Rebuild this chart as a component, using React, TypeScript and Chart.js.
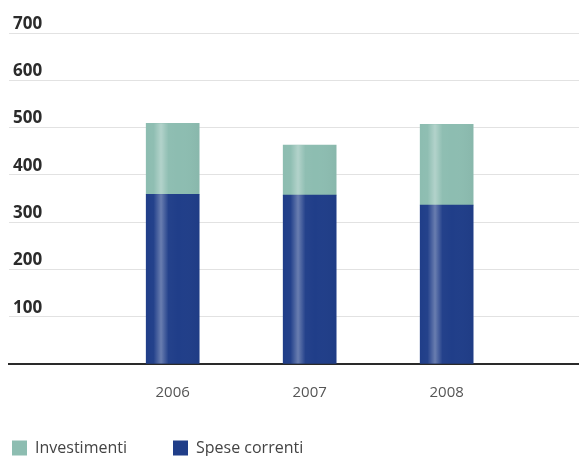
import React, { useEffect, useRef } from "react";
import { Chart, registerables } from "chart.js";

Chart.register(...registerables);

const categories = ["2006", "2007", "2008"];
const speseCorrenti = [359, 357, 336];
const investimenti = [150, 106, 171];
const yTicks = [0, 100, 200, 300, 400, 500, 600, 700];
const seriesNames = ["Spese correnti", "Investimenti"];
const seriesColors = ["#203e89", "#8dbdb1"];

const FONT = "'Open Sans', 'Liberation Sans', sans-serif";

const highlightPlugin = {
  id: "barHighlight",
  afterDatasetsDraw(chart: any) {
    const ctx = chart.ctx;
    chart.data.datasets.forEach((_: any, di: number) => {
      const meta = chart.getDatasetMeta(di);
      meta.data.forEach((el: any) => {
        const left = el.x - el.width / 2;
        const top = Math.min(el.y, el.base);
        const h = Math.abs(el.base - el.y);
        const g = ctx.createLinearGradient(left, 0, left + el.width, 0);
        g.addColorStop(0, "rgba(255,255,255,0)");
        g.addColorStop(0.14, "rgba(255,255,255,0.02)");
        g.addColorStop(0.28, "rgba(255,255,255,0.33)");
        g.addColorStop(0.42, "rgba(255,255,255,0.02)");
        g.addColorStop(0.6, "rgba(255,255,255,0)");
        g.addColorStop(1, "rgba(0,0,0,0.03)");
        ctx.save();
        ctx.fillStyle = g;
        ctx.fillRect(left, top, el.width, h);
        ctx.restore();
      });
    });
  },
};

const legendPlugin = {
  id: "bottomLegend",
  afterDraw(chart: any) {
    const ctx = chart.ctx;
    const order = [1, 0];
    const starts = [12, 173];
    const cy = 448;
    const box = 15;
    ctx.save();
    ctx.font = `16px ${FONT}`;
    ctx.textBaseline = "middle";
    ctx.textAlign = "left";
    order.forEach((di, k) => {
      const ds = chart.data.datasets[di];
      const x = starts[k];
      ctx.fillStyle = ds.backgroundColor;
      ctx.fillRect(x, cy - box / 2, box, box);
      ctx.fillStyle = "#444";
      ctx.fillText(ds.label, x + box + 8, cy);
    });
    ctx.restore();
  },
};

export default function App() {
  const ref = useRef<HTMLCanvasElement | null>(null);
  useEffect(() => {
    if (!ref.current) return;
    const chart = new Chart(ref.current, {
      type: "bar",
      data: {
        datasets: [
          {
            label: seriesNames[0],
            data: speseCorrenti.map((v, i) => ({ x: i, y: v })),
            backgroundColor: seriesColors[0],
            barThickness: 53,
          },
          {
            label: seriesNames[1],
            data: investimenti.map((v, i) => ({ x: i, y: v })),
            backgroundColor: seriesColors[1],
            barThickness: 53,
          },
        ],
      },
      options: {
        responsive: false,
        animation: false,
        layout: { padding: { top: 33, left: 9, right: 0, bottom: 0 } },
        plugins: {
          legend: { display: false },
          tooltip: { enabled: false },
        },
        scales: {
          x: {
            type: "linear",
            stacked: true,
            offset: false,
            bounds: "ticks",
            min: -1.195,
            max: 2.966,
            z: 1,
            afterBuildTicks: (scale: any) => {
              scale.ticks = categories.map((_, i) => ({ value: i }));
            },
            afterFit: (scale: any) => {
              scale.height = 92;
            },
            grid: { display: true, drawOnChartArea: false, drawTicks: false, color: "rgba(0,0,0,0)" },
            border: { display: true, color: "#2a2a2a", width: 2 },
            ticks: {
              padding: 20,
              color: "#555",
              font: { family: FONT, size: 15 },
              maxRotation: 0,
              callback: (v: any) => categories[v] ?? "",
            },
          },
          y: {
            stacked: true,
            min: yTicks[0],
            max: yTicks[yTicks.length - 1],
            afterBuildTicks: (scale: any) => {
              scale.ticks = yTicks.map((v) => ({ value: v }));
            },
            afterFit: (scale: any) => {
              scale.width = 0;
            },
            border: { display: false },
            grid: { color: "#e2e2e2", lineWidth: 1, drawTicks: false },
            ticks: {
              mirror: true,
              padding: 4,
              labelOffset: -9,
              color: "#2b2b2b",
              font: { family: FONT, size: 17, weight: "bold" },
              callback: (v: any) => (v === 0 ? "" : String(v)),
            },
          },
        },
      },
      plugins: [highlightPlugin, legendPlugin],
    });
    return () => chart.destroy();
  }, []);
  return (
    <div style={{ position: "absolute", left: 0, top: 0, width: 579, height: 456, background: "#fff" }}>
      <canvas ref={ref} width={579} height={456} />
    </div>
  );
}
